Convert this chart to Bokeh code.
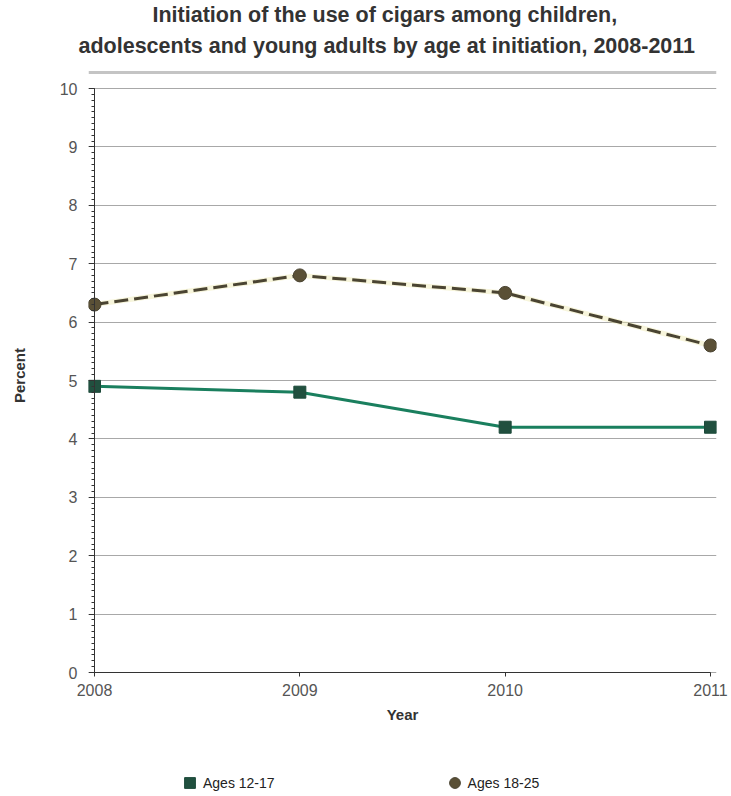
from bokeh.plotting import figure
from bokeh.models import (Range1d, LegendItem, Legend, SingleIntervalTicker,
                          FixedTicker, ColumnDataSource, LinearAxis, Title, Span)
from bokeh.layouts import column
from bokeh.embed import file_html
from bokeh.resources import INLINE

# ---- data ----
title_lines = ["Initiation of the use of cigars among children,",
               "adolescents and young adults by age at initiation, 2008-2011"]
years = [2008, 2009, 2010, 2011]
ages_12_17 = [4.9, 4.8, 4.2, 4.2]
ages_18_25 = [6.3, 6.8, 6.5, 5.6]
series_labels = ["Ages 12-17", "Ages 18-25"]
y_min, y_max = 0, 10

FONT = "Liberation Sans"
W = 731
LEG_H = 30
H = 796 - LEG_H
ml, mr, mt, mb = 88, 15, 70, 86
frame_w = W - ml - mr          # 628
frame_h = H - mt - mb          # 610
px_x = 616                     # pixels spanned by 2008..2011
px_y = 584                     # pixels spanned by 0..10
pad_l = 6
pad_b = 8
ux = (years[-1] - years[0]) / px_x
uy = (y_max - y_min) / px_y
x0 = years[0] - pad_l * ux
y0 = y_min - pad_b * uy

p = figure(width=W, height=H,
           x_range=Range1d(x0, x0 + frame_w * ux),
           y_range=Range1d(y0, y0 + frame_h * uy),
           min_border_left=ml, min_border_right=mr, min_border_top=mt, min_border_bottom=mb,
           toolbar_location=None, output_backend="svg")
p.outline_line_color = None
p.background_fill_color = "white"
p.xgrid.visible = False
p.ygrid.ticker = SingleIntervalTicker(interval=1)
p.ygrid.grid_line_color = "#a8a8a8"
p.ygrid.grid_line_width = 1

# title lines (first added sits nearest to the frame)
for txt, off, stand in [(title_lines[1], -10, 25), (title_lines[0], 64, -14)]:
    p.add_layout(Title(text=txt, align="left", offset=off, standoff=stand,
                       text_font=FONT, text_font_style="bold", text_font_size="21.5px",
                       text_color="#333333"), "above")

# rule under the title
p.add_layout(Span(location=y0 + (frame_h - 2) * uy, dimension="width",
                  line_color="#c4c4c4", line_width=3))

# label-only axes at the frame edges
yax = p.yaxis[0]
yax.ticker = SingleIntervalTicker(interval=1)
yax.axis_line_color = None
yax.major_tick_line_color = None
yax.minor_tick_line_color = None
yax.major_tick_out = 0
yax.minor_tick_out = 0
yax.major_tick_in = 0
yax.axis_label = "Percent"
yax.axis_label_text_font = FONT
yax.axis_label_text_font_style = "bold"
yax.axis_label_text_font_size = "15px"
yax.axis_label_text_color = "#333333"
yax.axis_label_standoff = 29
yax.major_label_text_font = FONT
yax.major_label_text_font_size = "16px"
yax.major_label_text_color = "#555555"
yax.major_label_standoff = 11

xax = p.xaxis[0]
xax.ticker = FixedTicker(ticks=years)
xax.axis_line_color = None
xax.major_tick_line_color = None
xax.major_tick_out = 0
xax.major_tick_in = 0
xax.axis_label = "Year"
xax.axis_label_text_font = FONT
xax.axis_label_text_font_style = "bold"
xax.axis_label_text_font_size = "15px"
xax.axis_label_text_color = "#333333"
xax.axis_label_standoff = 7
xax.major_label_text_font = FONT
xax.major_label_text_font_size = "16px"
xax.major_label_text_color = "#555555"
xax.major_label_standoff = 3

# axis lines and ticks placed at the data origin (their labels are not drawn)
yline = LinearAxis(ticker=SingleIntervalTicker(interval=1, num_minor_ticks=10),
                   fixed_location=years[0], bounds=(y_min, y_max),
                   major_label_text_color=None, major_label_text_font_size="1px",
                   major_label_standoff=0,
                   major_tick_out=6, major_tick_in=0, minor_tick_out=3, minor_tick_in=0,
                   axis_line_color="#333333", major_tick_line_color="#333333",
                   minor_tick_line_color="#333333")
p.add_layout(yline, "left")
xline = LinearAxis(ticker=FixedTicker(ticks=years), fixed_location=y_min,
                   bounds=(years[0], years[-1]),
                   major_label_text_color=None, major_label_text_font_size="1px",
                   major_label_standoff=0,
                   major_tick_out=4, major_tick_in=0,
                   axis_line_color="#333333", major_tick_line_color="#333333")
p.add_layout(xline, "below")

src = ColumnDataSource(dict(year=years, a=ages_12_17, b=ages_18_25))

LINE_A, MARK_A, EDGE_A = "#1a7f5e", "#21503f", "#1d4a3a"
LINE_B, MARK_B = "#4a4432", "#5a5036"

p.line("year", "b", source=src, line_color="#ece6a6", line_width=5, line_alpha=0.4)
p.line("year", "b", source=src, line_color=LINE_B, line_width=3, line_dash="14 6")
p.scatter("year", "b", source=src, marker="circle", size=13,
          fill_color=MARK_B, line_color=LINE_B)

p.line("year", "a", source=src, line_color=LINE_A, line_width=3)
p.scatter("year", "a", source=src, marker="square", size=12,
          fill_color=MARK_A, line_color=EDGE_A)

# ---- legend strip (its renderers use the same data, which lies outside this strip's ranges) ----
leg = figure(width=W, height=LEG_H, x_range=Range1d(0, 1), y_range=Range1d(0, 1),
             toolbar_location=None, output_backend="svg",
             min_border_left=ml, min_border_right=mr, min_border_top=0, min_border_bottom=0,
             x_axis_location=None, y_axis_location=None)
leg.grid.visible = False
leg.outline_line_color = None
g_a = leg.scatter("year", "a", source=src, marker="square", size=11,
                  fill_color=MARK_A, line_color=EDGE_A)
g_b = leg.scatter("year", "b", source=src, marker="circle", size=11,
                  fill_color=MARK_B, line_color=LINE_B)
legend = Legend(items=[LegendItem(label=series_labels[0], renderers=[g_a]),
                       LegendItem(label=series_labels[1], renderers=[g_b])],
                orientation="horizontal", location=(88, 0),
                label_text_font=FONT, label_text_font_size="14px", label_text_color="#222222",
                glyph_width=27, glyph_height=27, label_standoff=0, spacing=166,
                label_height=16, padding=0, margin=0,
                border_line_color=None, background_fill_alpha=0)
leg.add_layout(legend, "center")

open("out.html", "w").write(file_html(column(p, leg), INLINE))
